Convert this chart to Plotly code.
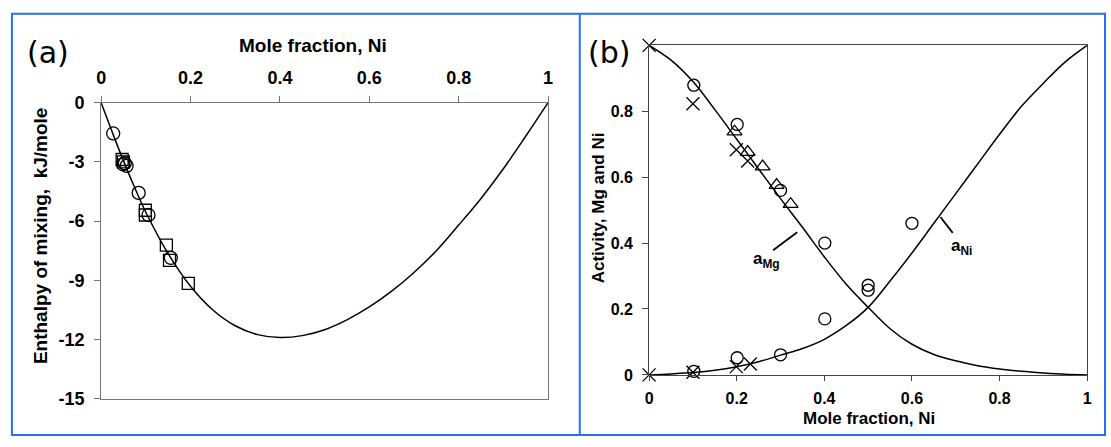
import plotly.graph_objects as go

# ---------------- Panel (a) data ----------------
xa_curve = [0, 0.025, 0.05, 0.075, 0.1, 0.15, 0.2, 0.25, 0.3, 0.35, 0.4, 0.45, 0.5,
            0.55, 0.6, 0.65, 0.7, 0.75, 0.8, 0.85, 0.9, 0.95, 1.0]
ya_curve = [0, -1.5, -2.95, -4.3, -5.55, -7.65, -9.3, -10.5, -11.3, -11.75, -11.9, -11.8, -11.5,
            -11.0, -10.35, -9.55, -8.6, -7.5, -6.2, -4.85, -3.35, -1.7, 0]
xa_circ = [0.027, 0.049, 0.053, 0.057, 0.084, 0.106, 0.156]
ya_circ = [-1.56, -3.12, -3.07, -3.2, -4.57, -5.69, -7.86]
xa_sq = [0.047, 0.05, 0.099, 0.099, 0.146, 0.153, 0.195]
ya_sq = [-2.88, -3.0, -5.45, -5.69, -7.22, -7.99, -9.15]
xa_ticks = [0, 0.2, 0.4, 0.6, 0.8, 1]
xa_ticktext = ["0", "0.2", "0.4", "0.6", "0.8", "1"]
ya_ticks = [0, -3, -6, -9, -12, -15]
ya_ticktext = ["0", "-3", "-6", "-9", "-12", "-15"]

# ---------------- Panel (b) data ----------------
xb_curve = [0, 0.05, 0.1, 0.15, 0.2, 0.25, 0.3, 0.35, 0.4, 0.45, 0.5, 0.55, 0.6, 0.65, 0.7,
            0.75, 0.8, 0.85, 0.9, 0.95, 1.0]
a_mg = [1.0, 0.955, 0.89, 0.805, 0.715, 0.625, 0.535, 0.448, 0.358, 0.275, 0.205, 0.14, 0.093,
        0.062, 0.043, 0.028, 0.018, 0.011, 0.006, 0.002, 0]
a_ni = [0, 0.003, 0.007, 0.014, 0.025, 0.04, 0.06, 0.08, 0.108, 0.15, 0.205, 0.285, 0.37,
        0.46, 0.55, 0.64, 0.73, 0.815, 0.885, 0.95, 1.0]
xb_circ = [0.102, 0.201, 0.30, 0.401, 0.5, 0.5, 0.6, 0.401, 0.30, 0.201, 0.102]
yb_circ = [0.879, 0.760, 0.56, 0.400, 0.272, 0.257, 0.46, 0.170, 0.061, 0.052, 0.011]
xb_x = [0, 0, 0.1, 0.199, 0.225, 0.1, 0.199, 0.231]
yb_x = [0, 1, 0.823, 0.683, 0.649, 0.008, 0.025, 0.033]
xb_tri = [0.195, 0.225, 0.259, 0.291, 0.323]
yb_tri = [0.738, 0.676, 0.632, 0.576, 0.518]
xb_ticks = [0, 0.2, 0.4, 0.6, 0.8, 1]
xb_ticktext = ["0", "0.2", "0.4", "0.6", "0.8", "1"]
yb_ticks = [0, 0.2, 0.4, 0.6, 0.8]
yb_ticktext = ["0", "0.2", "0.4", "0.6", "0.8"]

W, H = 1111, 447
BLACK = "#000000"
FRAME = "#777777"
BLUE = "#2a6ff0"
FONT = "Liberation Sans, Arial, sans-serif"


def px(x):
    return x / W


def py(y):
    return 1 - y / H


fig = go.Figure()

# panel (a)
fig.add_trace(go.Scatter(x=xa_curve, y=ya_curve, mode="lines", line=dict(color=BLACK, width=1.5, shape="spline"),
                         xaxis="x", yaxis="y", showlegend=False, hoverinfo="skip"))
fig.add_trace(go.Scatter(x=xa_sq, y=ya_sq, mode="markers", cliponaxis=False,
                         marker=dict(symbol="square-open", size=12, color=BLACK, line=dict(width=1.3)),
                         xaxis="x", yaxis="y", showlegend=False))
fig.add_trace(go.Scatter(x=xa_circ, y=ya_circ, mode="markers", cliponaxis=False,
                         marker=dict(symbol="circle-open", size=13, color=BLACK, line=dict(width=1.3)),
                         xaxis="x", yaxis="y", showlegend=False))

# panel (b)
fig.add_trace(go.Scatter(x=xb_curve, y=a_mg, mode="lines", line=dict(color=BLACK, width=1.5, shape="spline"),
                         xaxis="x2", yaxis="y2", showlegend=False, cliponaxis=False))
fig.add_trace(go.Scatter(x=xb_curve, y=a_ni, mode="lines", line=dict(color=BLACK, width=1.5, shape="spline"),
                         xaxis="x2", yaxis="y2", showlegend=False, cliponaxis=False))
fig.add_trace(go.Scatter(x=xb_circ, y=yb_circ, mode="markers", cliponaxis=False,
                         marker=dict(symbol="circle-open", size=12, color=BLACK, line=dict(width=1.3)),
                         xaxis="x2", yaxis="y2", showlegend=False))
fig.add_trace(go.Scatter(x=xb_x, y=yb_x, mode="markers", cliponaxis=False,
                         marker=dict(symbol="x-thin-open", size=13, color=BLACK, line=dict(width=1.3, color=BLACK)),
                         xaxis="x2", yaxis="y2", showlegend=False))
fig.add_trace(go.Scatter(x=xb_tri, y=yb_tri, mode="markers", cliponaxis=False,
                         marker=dict(symbol="triangle-up-open", size=13, color=BLACK, line=dict(width=1.3)),
                         xaxis="x2", yaxis="y2", showlegend=False))

axis_common = dict(showline=True, mirror=True, linecolor=FRAME, linewidth=1, ticks="outside",
                   tickcolor=FRAME, ticklen=6, showgrid=False, zeroline=False, fixedrange=True,
                   tickfont=dict(family=FONT, size=18, color=BLACK, weight="bold"))

fig.update_layout(
    width=W, height=H, margin=dict(l=0, r=0, t=0, b=0),
    paper_bgcolor="white", plot_bgcolor="white",
    xaxis=dict(axis_common, domain=[px(97), px(548)], anchor="y", side="top", range=[0, 1],
               tickvals=xa_ticks, ticktext=xa_ticktext, ticklabelstandoff=4),
    yaxis=dict(axis_common, domain=[py(407), py(97)], anchor="x", range=[-15, 0],
               tickvals=ya_ticks, ticktext=ya_ticktext, ticklabelstandoff=6),
    xaxis2=dict(axis_common, domain=[px(650), px(1092)], anchor="y2", range=[0, 1],
                tickvals=xb_ticks, ticktext=xb_ticktext, ticklabelstandoff=4, linecolor="#444444",
                tickcolor="#444444", ticklen=5, tickfont=dict(family=FONT, size=16, color=BLACK, weight="bold")),
    yaxis2=dict(axis_common, domain=[py(382), py(37)], anchor="x2", range=[0, 1],
                tickvals=yb_ticks, ticktext=yb_ticktext, ticklabelstandoff=6, linecolor="#444444",
                tickcolor="#444444", ticklen=6, tickfont=dict(family=FONT, size=16, color=BLACK, weight="bold")),
)

bold = dict(family=FONT, color=BLACK, weight="bold")
annotations = [
    # axis titles
    dict(text="Mole fraction, Ni", x=px(311), y=py(37), xref="paper", yref="paper",
         showarrow=False, font=dict(bold, size=19), xanchor="center", yanchor="middle"),
    dict(text="Enthalpy of mixing,  kJ/mole", x=px(36), y=py(236), xref="paper", yref="paper",
         showarrow=False, font=dict(bold, size=19), textangle=-90, xanchor="center", yanchor="middle"),
    dict(text="Mole fraction, Ni", x=px(872), y=py(428), xref="paper", yref="paper",
         showarrow=False, font=dict(bold, size=17), xanchor="center", yanchor="middle"),
    dict(text="Activity, Mg and Ni", x=px(599), y=py(207), xref="paper", yref="paper",
         showarrow=False, font=dict(bold, size=17), textangle=-90, xanchor="center", yanchor="middle"),
    # panel labels
    dict(text="(a)", x=px(20), y=py(44), xref="paper", yref="paper", showarrow=False,
         font=dict(family="DejaVu Sans", size=30, color=BLACK), xanchor="left", yanchor="middle"),
    dict(text="(b)", x=px(586), y=py(44), xref="paper", yref="paper", showarrow=False,
         font=dict(family="DejaVu Sans", size=30, color=BLACK), xanchor="left", yanchor="middle"),
    # curve labels
    dict(text="a<sub>Mg</sub>", x=0.267, y=0.35, xref="x2", yref="y2", showarrow=False,
         font=dict(bold, size=17), xanchor="center", yanchor="middle"),
    dict(text="a<sub>Ni</sub>", x=0.713, y=0.388, xref="x2", yref="y2", showarrow=False,
         font=dict(bold, size=17), xanchor="center", yanchor="middle"),
]
fig.update_layout(annotations=annotations)

shapes = [
    # leader lines
    dict(type="line", xref="x2", yref="y2", x0=0.283, y0=0.378, x1=0.338, y1=0.433,
         line=dict(color=BLACK, width=1.8)),
    dict(type="line", xref="x2", yref="y2", x0=0.665, y0=0.479, x1=0.693, y1=0.431,
         line=dict(color=BLACK, width=1.8)),
    # blue panel frames
    dict(type="rect", xref="paper", yref="paper", x0=px(7), y0=py(445), x1=px(1110), y1=py(4),
         line=dict(color=BLUE, width=2)),
    dict(type="line", xref="paper", yref="paper", x0=px(580), y0=py(445), x1=px(580), y1=py(4),
         line=dict(color=BLUE, width=2)),
]
fig.update_layout(shapes=shapes)

fig.write_html("out.html")
